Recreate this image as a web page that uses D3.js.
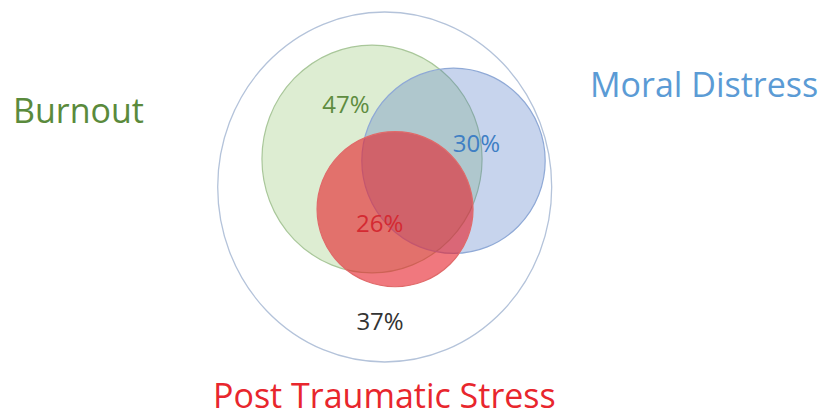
<!DOCTYPE html>
<html>
<head>
<meta charset="utf-8">
<script src="https://cdn.jsdelivr.net/npm/d3@7"></script>
<style>
  body { margin: 0; background: #fff; }
  svg text { font-family: "Open Sans", sans-serif; }
</style>
</head>
<body>
<div id="venn"></div>
<script>
var width = 823;
var height = 418;

// data
var sets = ["Burnout", "Moral Distress", "Post Traumatic Stress"];
var setValues = ["47%", "30%", "26%"];
var noneValue = "37%";

// layout, in units of the outer circle (radius 1)
var circleLayout = [
  {cx: -0.076, cy: -0.160, rx: 0.659, ry: 0.651},
  {cx: 0.412, cy: -0.150, rx: 0.549, ry: 0.529},
  {cx: 0.062, cy: 0.127, rx: 0.467, ry: 0.443}
];
var valueLayout = [[-0.232, -0.421], [0.549, -0.202], [-0.03, 0.259]];
var noneLayout = [-0.028, 0.816];

var fills = ["rgb(169,209,142)", "rgb(68,114,196)", "rgb(230,30,40)"];
var fillOpacity = [0.4, 0.3, 0.6];
var strokes = ["#a9c79a", "#8fa9d6", "#e06a6a"];
var textColors = ["#5e8c40", "#3f7fc4", "#d42a32"];
var nameColors = ["#5a8a3c", "#5b9bd5", "#e8262d"];

var svg = d3.select("#venn")
  .append("svg")
  .attr("width", width)
  .attr("height", height);

var x = d3.scaleLinear().domain([-1, 1]).range([217.7, 551.7]);
var y = d3.scaleLinear().domain([-1, 1]).range([12, 362]);

function sx(u){ return x(u) - x(0); }
function sy(u){ return y(u) - y(0); }

// outer "none" circle
svg.append("ellipse")
  .attr("cx", x(0))
  .attr("cy", y(0))
  .attr("rx", sx(1))
  .attr("ry", sy(1))
  .attr("fill", "none")
  .attr("stroke", "#b4c3da")
  .attr("stroke-width", 1.3);

svg.selectAll(".set")
  .data(circleLayout)
  .enter()
  .append("ellipse")
  .attr("class", "set")
  .attr("cx", function(d){ return x(d.cx); })
  .attr("cy", function(d){ return y(d.cy); })
  .attr("rx", function(d){ return sx(d.rx); })
  .attr("ry", function(d){ return sy(d.ry); })
  .attr("fill", function(d, i){ return fills[i]; })
  .attr("fill-opacity", function(d, i){ return fillOpacity[i]; })
  .attr("stroke", function(d, i){ return strokes[i]; })
  .attr("stroke-width", 1.2);

svg.selectAll(".val")
  .data(setValues)
  .enter()
  .append("text")
  .attr("class", "val")
  .attr("x", function(d, i){ return x(valueLayout[i][0]); })
  .attr("y", function(d, i){ return y(valueLayout[i][1]); })
  .attr("text-anchor", "middle")
  .attr("font-size", 24)
  .attr("fill", function(d, i){ return textColors[i]; })
  .text(function(d){ return d; });

svg.append("text")
  .attr("x", x(noneLayout[0]))
  .attr("y", y(noneLayout[1]))
  .attr("text-anchor", "middle")
  .attr("font-size", 24)
  .attr("fill", "#333")
  .text(noneValue);

// set names
var namePos = [[13, 123, "start"], [590, 97, "start"], [213, 408, "start"]];
svg.selectAll(".name")
  .data(sets)
  .enter()
  .append("text")
  .attr("class", "name")
  .attr("x", function(d, i){ return namePos[i][0]; })
  .attr("y", function(d, i){ return namePos[i][1]; })
  .attr("text-anchor", function(d, i){ return namePos[i][2]; })
  .attr("font-size", 34)
  .attr("fill", function(d, i){ return nameColors[i]; })
  .text(function(d){ return d; });
</script>
</body>
</html>
